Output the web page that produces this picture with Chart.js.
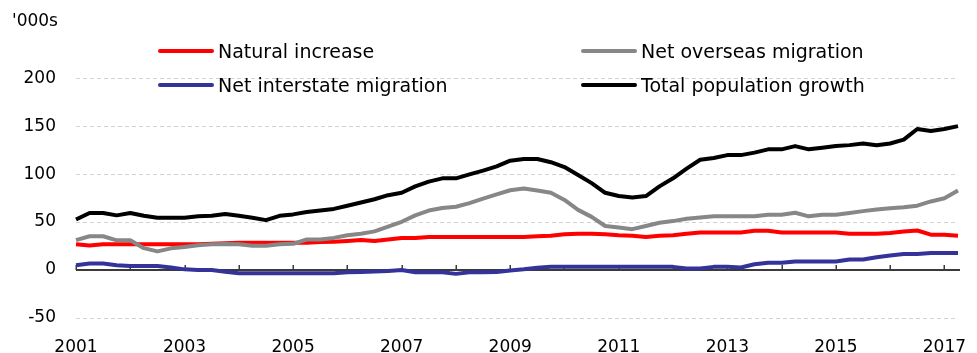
<!DOCTYPE html>
<html>
<head>
<meta charset="utf-8">
<script src="https://cdn.jsdelivr.net/npm/chart.js@4"></script>
<style>
  html, body { margin: 0; padding: 0; background: #fff; }
  canvas { display: block; }
</style>
</head>
<body>
<canvas id="c" width="977" height="353"></canvas>
<script>
// Quarterly periods, 2001 Q1 to 2017 Q2
const quarters = [
  '2001 Q1','2001 Q2','2001 Q3','2001 Q4','2002 Q1','2002 Q2','2002 Q3','2002 Q4',
  '2003 Q1','2003 Q2','2003 Q3','2003 Q4','2004 Q1','2004 Q2','2004 Q3','2004 Q4',
  '2005 Q1','2005 Q2','2005 Q3','2005 Q4','2006 Q1','2006 Q2','2006 Q3','2006 Q4',
  '2007 Q1','2007 Q2','2007 Q3','2007 Q4','2008 Q1','2008 Q2','2008 Q3','2008 Q4',
  '2009 Q1','2009 Q2','2009 Q3','2009 Q4','2010 Q1','2010 Q2','2010 Q3','2010 Q4',
  '2011 Q1','2011 Q2','2011 Q3','2011 Q4','2012 Q1','2012 Q2','2012 Q3','2012 Q4',
  '2013 Q1','2013 Q2','2013 Q3','2013 Q4','2014 Q1','2014 Q2','2014 Q3','2014 Q4',
  '2015 Q1','2015 Q2','2015 Q3','2015 Q4','2016 Q1','2016 Q2','2016 Q3','2016 Q4',
  '2017 Q1','2017 Q2'
];

// Year labels shown on the horizontal axis
const yearLabels = ['2001','2003','2005','2007','2009','2011','2013','2015','2017'];

// Vertical axis ticks ('000s)
const yTicks = [-50, 0, 50, 100, 150, 200];

// Annual components of population growth, '000s
const naturalIncrease = [
  26.8, 25.5, 26.8, 27, 27, 27, 27, 27, 27, 27, 27.5, 28, 28.5, 28.5, 28.5, 28.5,
  28.5, 28.5, 29.2, 29.5, 30.2, 31.2, 30.2, 31.8, 33.5, 33.5, 34.5, 34.5, 34.5, 34.5, 34.5, 34.5,
  34.5, 34.5, 35.2, 35.8, 37.2, 37.9, 37.9, 37.2, 36.2, 35.8, 34.5, 35.8, 36.2, 37.9, 39.2, 39.2,
  39.2, 39.2, 40.9, 40.9, 39.2, 39.2, 39.2, 39.2, 39.2, 37.9, 37.9, 37.9, 38.5, 40.2, 41.2, 36.9,
  36.9, 35.8
];
const netOverseas = [
  31.2, 35.2, 35.2, 31, 31, 22.8, 19.4, 22.6, 24.1, 25.8, 26.8, 27.1, 26.8, 25.2, 25.2, 26.8,
  27.3, 31.8, 31.8, 33.5, 36.2, 37.9, 40.3, 45.3, 50.3, 57, 62, 64.7, 66, 69.8, 74.5, 78.8,
  83.2, 84.9, 82.8, 80.5, 73.1, 62.7, 55.4, 45.9, 44.3, 42.6, 45.9, 49.3, 51, 53.4, 54.7, 56,
  56, 56, 56, 57.7, 57.7, 59.7, 56, 57.7, 57.7, 59.4, 61.4, 63, 64.4, 65.4, 67.1, 71.5,
  74.8, 82.8
];
const netInterstate = [
  5, 6.7, 6.7, 5, 4.3, 4.3, 4.3, 2.7, 0.7, 0, 0, -1.7, -3.4, -3.4, -3.4, -3.4,
  -3.4, -3.4, -3.4, -3.4, -2.4, -2, -1.5, -1, 0, -2.4, -2.4, -2.4, -4, -2.4, -2.4, -2,
  -0.5, 0.7, 2.3, 3.3, 3.3, 3.3, 3.3, 3.3, 3.3, 3.3, 3.3, 3.3, 3.3, 1.7, 1.7, 3.3,
  3.3, 2.7, 6, 7.7, 7.7, 9, 9, 9, 9, 11, 11, 13.4, 15.1, 16.7, 16.7, 17.7,
  17.7, 17.7
];
const totalGrowth = [
  52.6, 59.5, 59.5, 57, 59.5, 56.5, 54.5, 54.5, 54.5, 56, 56.5, 58.5, 56.5, 54.5, 52, 56.5,
  58, 60.4, 62, 63.7, 67, 70.4, 73.8, 78, 80.5, 87.2, 92.2, 95.6, 95.6, 99.7, 103.7, 108,
  114, 115.8, 115.8, 112.4, 107.3, 99, 90.6, 80.5, 77.1, 75.5, 77.1, 87.2, 95.6, 105.7, 115, 116.8,
  119.8, 119.8, 122.4, 125.8, 125.8, 129.2, 125.8, 127.5, 129.2, 130.2, 131.9, 130, 131.9, 135.9, 147, 145,
  147, 150
];

const FONT = 'DejaVu Sans';
const TEXT = '#000000';

// Legend in two columns, drawn inside the plot area
const legendLayout = [
  { idx: 0, x: 158, y: 51 },
  { idx: 1, x: 581, y: 51 },
  { idx: 2, x: 158, y: 85 },
  { idx: 3, x: 581, y: 85 }
];

const overlay = {
  id: 'overlay',
  beforeDatasetsDraw(chart) {
    const { ctx, chartArea, scales } = chart;
    const y0 = scales.y.getPixelForValue(0);
    ctx.save();
    // zero line
    ctx.strokeStyle = '#3a3a3a';
    ctx.lineWidth = 2;
    ctx.beginPath();
    ctx.moveTo(chartArea.left, y0);
    ctx.lineTo(chartArea.right + 2, y0);
    ctx.stroke();
    // annual tick marks on the zero line
    ctx.lineWidth = 1.5;
    quarters.forEach((q, i) => {
      if (!q.endsWith('Q1')) return;
      const x = Math.round(scales.x.getPixelForValue(i)) + 0.25;
      ctx.beginPath();
      ctx.moveTo(x, y0);
      ctx.lineTo(x, y0 - 5);
      ctx.stroke();
    });
    ctx.restore();
  },
  afterDraw(chart) {
    const { ctx } = chart;
    ctx.save();
    // unit label
    ctx.fillStyle = TEXT;
    ctx.font = '17px "' + FONT + '"';
    ctx.textBaseline = 'alphabetic';
    ctx.textAlign = 'left';
    ctx.fillText("'000s", 12, 26);
    // legend
    ctx.font = '19px "' + FONT + '"';
    legendLayout.forEach(item => {
      const ds = chart.data.datasets[item.idx];
      ctx.strokeStyle = ds.borderColor;
      ctx.lineWidth = 4;
      ctx.lineCap = 'round';
      ctx.beginPath();
      ctx.moveTo(item.x + 2, item.y);
      ctx.lineTo(item.x + 54, item.y);
      ctx.stroke();
      ctx.fillStyle = TEXT;
      ctx.textBaseline = 'alphabetic';
      ctx.fillText(ds.label, item.x + 60, item.y + 7);
    });
    ctx.restore();
  }
};

new Chart(document.getElementById('c'), {
  type: 'line',
  data: {
    labels: quarters,
    datasets: [
      { label: 'Natural increase', data: naturalIncrease, borderColor: '#ff0000', order: 4 },
      { label: 'Net overseas migration', data: netOverseas, borderColor: '#878787', order: 3 },
      { label: 'Net interstate migration', data: netInterstate, borderColor: '#333399', order: 2 },
      { label: 'Total population growth', data: totalGrowth, borderColor: '#000000', order: 1 }
    ]
  },
  options: {
    responsive: false,
    animation: false,
    layout: { padding: { top: 20, right: 10.7, left: 0, bottom: 0 } },
    plugins: { legend: { display: false }, tooltip: { enabled: false } },
    elements: {
      point: { radius: 0 },
      line: { tension: 0, borderWidth: 4, borderJoinStyle: 'round', borderCapStyle: 'butt', fill: false }
    },
    scales: {
      x: {
        type: 'category',
        offset: false,
        grid: { display: false, drawTicks: false },
        border: { display: false },
        ticks: {
          autoSkip: false,
          maxRotation: 0,
          padding: 19,
          color: TEXT,
          font: { family: FONT, size: 17 },
          callback(value, index) {
            const q = quarters[index];
            const yr = q.slice(0, 4);
            return (q.endsWith('Q1') && yearLabels.includes(yr)) ? yr : '';
          }
        },
        afterFit(scale) { scale.height = 35; }
      },
      y: {
        min: -50,
        max: 250,
        afterBuildTicks(scale) {
          scale.ticks = yTicks.map(v => ({ value: v })).concat([{ value: 250 }]);
        },
        grid: {
          drawTicks: false,
          lineWidth: 1,
          color: (c) => (c.tick && (c.tick.value === 0 || c.tick.value === 250)) ? 'rgba(0,0,0,0)' : '#d2d2d2'
        },
        border: { display: false, dash: [4, 3] },
        ticks: {
          padding: 20,
          color: TEXT,
          font: { family: FONT, size: 17 },
          callback: (v) => yTicks.includes(v) ? String(v) : ''
        },
        afterFit(scale) { scale.width = 76; }
      }
    }
  },
  plugins: [overlay]
});
</script>
</body>
</html>
